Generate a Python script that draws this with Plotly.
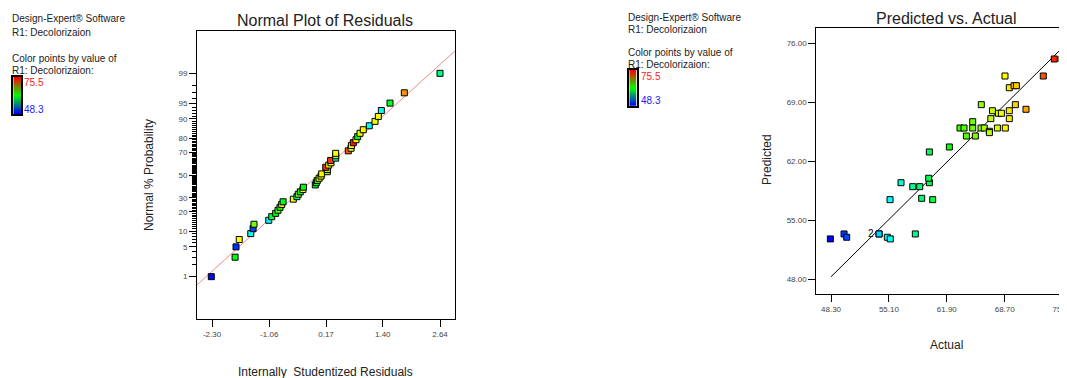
import plotly.graph_objects as go
import numpy as np
from statistics import NormalDist

# ---------------- data ----------------
# Normal plot of residuals (rank order)
resid_x = [-2.315, -1.80, -1.78, -1.71, -1.46, -1.41, -1.39, -1.07, -1.006, -0.92,
           -0.87, -0.826, -0.79, -0.76, -0.538, -0.46, -0.43, -0.387, -0.33, -0.32,
           -0.062, -0.04, -0.018, 0.02, 0.062, 0.077, 0.198, 0.20, 0.164, 0.229,
           0.278, 0.27, 0.38, 0.38, 0.38, 0.653, 0.712, 0.72, 0.762, 0.82,
           0.857, 0.907, 0.978, 1.108, 1.232, 1.304, 1.369, 1.557, 1.867, 2.64]
resid_pct = [1, 3, 5, 7, 9, 11, 13, 15, 17, 19,
             21, 23, 25, 27, 29, 31, 33, 35, 37, 39,
             41, 43, 45, 47, 49, 51, 53, 55, 57, 59,
             61, 63, 65, 67, 69, 71, 73, 75, 77, 79,
             81, 83, 85, 87, 89, 91, 93, 95, 97, 99]
resid_resp = [48.5, 61.5, 49.5, 68.5, 55.5, 50.0, 65.0, 55.0, 60.5, 62.0,
              64.0, 62.5, 69.5, 61.0, 68.0, 57.0, 65.5, 61.5, 68.5, 62.0,
              60.5, 62.0, 63.0, 67.0, 68.0, 68.5, 65.5, 66.0, 74.5, 68.0,
              68.7, 74.0, 55.5, 67.0, 68.5, 73.0, 68.0, 68.5, 75.0, 69.0,
              62.0, 68.0, 69.0, 55.0, 68.0, 68.5, 55.5, 61.0, 71.5, 58.5]
ref_slope = 0.958

# Predicted vs actual
actual = [48.22, 49.83, 50.14, 53.94, 53.94, 54.91, 55.26, 58.2, 55.23, 58.95,
          60.24, 56.52, 57.9, 58.72, 59.85, 59.77, 59.85, 62.2, 63.45, 63.92,
          64.2, 64.94, 64.94, 65.25, 65.92, 66.3, 65.95, 66.9, 66.9, 67.07,
          67.26, 67.84, 67.96, 68.31, 68.77, 69.24, 69.24, 69.95, 71.2, 68.73,
          69.24, 69.8, 70.07, 73.23, 74.52, 75.43]
predicted = [52.79, 53.38, 52.99, 53.38, 53.38, 52.99, 52.79, 53.38, 57.45, 57.61,
             57.45, 59.46, 58.99, 58.99, 59.46, 59.99, 63.11, 63.7, 65.95, 65.95,
             65.0, 65.95, 66.7, 65.0, 65.95, 65.95, 68.72, 65.56, 65.4, 67.06,
             68.0, 65.95, 67.7, 67.7, 65.95, 68.0, 67.06, 68.72, 68.17, 72.12,
             70.73, 70.97, 70.97, 72.12, 74.14, 74.14]
resp_min, resp_max = 48.3, 75.5

norm_major = [1, 5, 10, 20, 30, 50, 70, 80, 90, 95, 99]
norm_minor = list(range(1, 100))
resid_ticks = [-2.30, -1.06, 0.17, 1.40, 2.64]
act_ticks = [48.30, 55.10, 61.90, 68.70, 75.50]
pred_ticks = [48.00, 55.00, 62.00, 69.00, 76.00]

# ---------------- figure ----------------
W, H = 1067, 378
OFF = 8  # page body margin
FONT = "Liberation Sans, Arial, sans-serif"
nd = NormalDist()
z = lambda p: nd.inv_cdf(p / 100.0)

cscale = [[0, "#0000ff"], [0.25, "#00ffff"], [0.5, "#00ff00"], [0.75, "#ffff00"], [1, "#ff0000"]]
legend_scale = [[0, "#0000ff"], [0.5, "#00ff00"], [1, "#ff0000"]]

def px(x): return (x - OFF) / W
def py(y): return 1 - (y - OFF) / H

fig = go.Figure()

# reference line for normal plot
xr = [-2.625, 2.965]
fig.add_trace(go.Scatter(x=xr, y=[ref_slope * v for v in xr], mode="lines",
                         line=dict(color="#f08a8a", width=1), xaxis="x", yaxis="y",
                         hoverinfo="skip", showlegend=False))
fig.add_trace(go.Scatter(x=resid_x, y=[z(p) for p in resid_pct], mode="markers",
                         marker=dict(symbol="square", size=6, color=resid_resp, colorscale=cscale,
                                     cmin=resp_min, cmax=resp_max, line=dict(color="black", width=1)),
                         xaxis="x", yaxis="y", showlegend=False))

# y = x line for predicted vs actual
fig.add_trace(go.Scatter(x=[resp_min, resp_max], y=[resp_min, resp_max], mode="lines",
                         line=dict(color="black", width=1), xaxis="x2", yaxis="y2",
                         hoverinfo="skip", showlegend=False))
fig.add_trace(go.Scatter(x=actual, y=predicted, mode="markers",
                         marker=dict(symbol="square", size=6, color=actual, colorscale=cscale,
                                     cmin=resp_min, cmax=resp_max, line=dict(color="black", width=1)),
                         xaxis="x2", yaxis="y2", showlegend=False))

# colour legend bars
grad = np.linspace(resp_min, resp_max, 40)
for xa, ya in [("x3", "y3"), ("x4", "y4")]:
    fig.add_trace(go.Heatmap(z=[[v] for v in grad], colorscale=legend_scale, showscale=False,
                             zmin=resp_min, zmax=resp_max, xaxis=xa, yaxis=ya, hoverinfo="skip"))

tickfont = dict(family=FONT, size=8, color="#444444")
common = dict(showgrid=False, zeroline=False, showline=True, linecolor="black", linewidth=1,
              ticks="outside", tickcolor="black", tickwidth=1, tickfont=tickfont)
boxax = dict(showticklabels=False, ticks="", showgrid=False, zeroline=False, showline=True,
             mirror=True, linecolor="black", linewidth=1.5)

fig.update_layout(
    width=W, height=H, margin=dict(l=0, r=0, t=0, b=0),
    paper_bgcolor="white", plot_bgcolor="white",
    xaxis=dict(domain=[px(197), px(455)], range=xr, tickvals=resid_ticks,
               ticktext=["%.2f" % v for v in resid_ticks], ticklen=7, mirror=True,
               anchor="y", **common),
    yaxis=dict(domain=[py(319), py(31)], range=[-3.295, 3.295],
               tickvals=[z(p) for p in norm_major], ticktext=[str(p) for p in norm_major],
               ticklen=7, mirror=True, anchor="x",
               minor=dict(tickvals=[z(p) for p in norm_minor], ticklen=4, tickcolor="black",
                          ticks="outside", tickwidth=1),
               **common),
    xaxis2=dict(domain=[px(816.3), 1], range=[46.57, 76.955], tickvals=act_ticks,
                ticktext=["%.2f" % v for v in act_ticks], ticklen=7, mirror=True,
                anchor="y2", **common),
    yaxis2=dict(domain=[py(294.3), py(27.7)], range=[46.22, 77.85], tickvals=pred_ticks,
                ticktext=["%.2f" % v for v in pred_ticks], ticklen=7, mirror=False,
                anchor="x2", **common),
    xaxis3=dict(domain=[px(13.3), px(21.3)], anchor="y3", **boxax),
    yaxis3=dict(domain=[py(114.3), py(77)], anchor="x3", **boxax),
    xaxis4=dict(domain=[px(629.3), px(636.7)], anchor="y4", **boxax),
    yaxis4=dict(domain=[py(105.7), py(70)], anchor="x4", **boxax),
)

ann = []
def text(x, y, s, size=10, color="#222222", xanchor="left", angle=0):
    ann.append(dict(x=px(x), y=py(y), xref="paper", yref="paper", text=s, showarrow=False,
                    xanchor=xanchor, yanchor="middle", textangle=angle,
                    font=dict(family=FONT, size=size, color=color)))

# left info block
text(10, 19, "Design-Expert® Software")
text(10, 32, "R1: Decolorizaion")
text(10, 58, "Color points by value of")
text(10, 71, "R1: Decolorizaion:")
text(22, 83, "75.5", color="#ff2020")
text(22, 109, "48.3", color="#2020ff")
# right info block
text(626, 17, "Design-Expert® Software")
text(626, 29.5, "R1: Decolorizaion")
text(626, 52.5, "Color points by value of")
text(626, 64.5, "R1: Decolorizaion:")
text(639, 76.7, "75.5", color="#ff2020")
text(639, 100, "48.3", color="#2020ff")

# titles
text(325, 20.5, "Normal Plot of Residuals", size=16, xanchor="center")
text(149, 175, "Normal % Probability", size=12, xanchor="center", angle=-90)
text(325, 372, "Internally  Studentized Residuals", size=12, xanchor="center")
text(946, 18.5, "Predicted vs. Actual", size=16, xanchor="center")
text(767, 160, "Predicted", size=12, xanchor="center", angle=-90)
text(946, 345, "Actual", size=12, xanchor="center")

# overlap count label
ann.append(dict(x=actual[3], y=predicted[3], xref="x2", yref="y2", text="2", showarrow=False,
                xanchor="right", yanchor="middle", xshift=-3,
                font=dict(family=FONT, size=10, color="black")))

fig.update_layout(annotations=ann)
fig.write_html("out.html")
